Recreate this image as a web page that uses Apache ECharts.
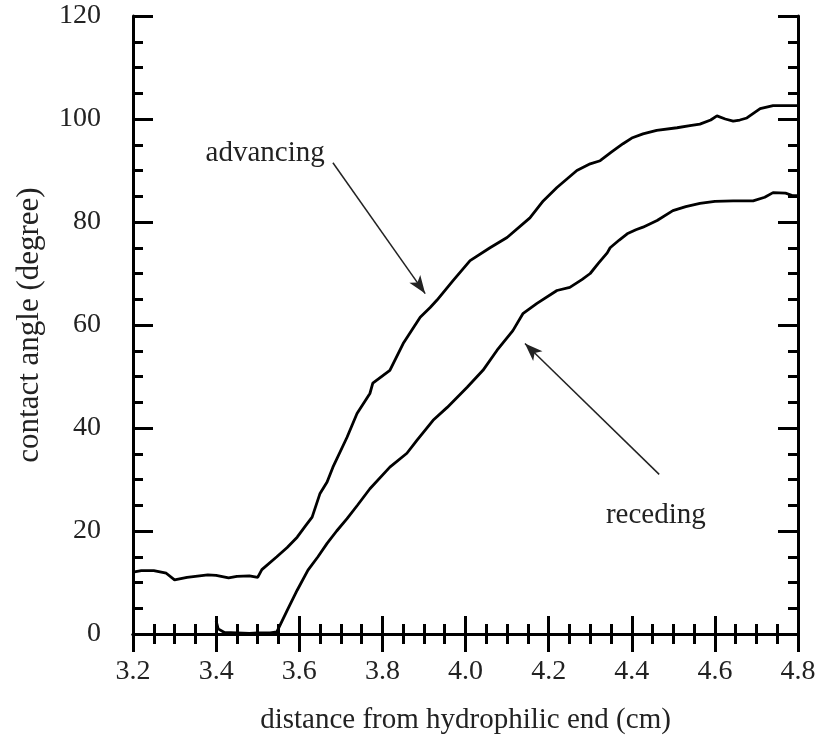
<!DOCTYPE html>
<html><head><meta charset="utf-8">
<script src="https://cdn.jsdelivr.net/npm/echarts@6/dist/echarts.min.js"></script>
<style>html,body{margin:0;padding:0;background:#fff}#c{width:815px;height:743px}</style>
</head><body><div id="c"></div>
<script>
// advancing contact angle [distance cm, angle deg]
const advX = [3.20,3.22,3.25,3.28,3.30,3.33,3.35,3.38,3.40,3.43,3.45,3.48,3.50,3.51,3.546,3.571,3.595,3.615,3.631,3.650,3.667,3.681,3.715,3.739,3.770,3.777,3.818,3.850,3.891,3.915,3.931,3.970,4.011,4.059,4.100,4.155,4.187,4.220,4.268,4.300,4.324,4.350,4.379,4.400,4.427,4.460,4.509,4.540,4.564,4.590,4.605,4.625,4.644,4.660,4.677,4.709,4.740,4.770,4.800];
const advY = [12.0,12.3,12.3,11.8,10.5,11.0,11.2,11.5,11.4,10.9,11.2,11.3,11.0,12.5,15.0,16.8,18.8,21.0,22.7,27.3,29.5,32.4,38.2,42.8,46.7,48.7,51.2,56.4,61.5,63.4,64.8,68.6,72.5,75.0,77.0,80.8,84.1,86.7,90.0,91.3,91.9,93.5,95.2,96.3,97.1,97.8,98.3,98.7,99.0,99.8,100.6,100.0,99.6,99.8,100.2,102.0,102.6,102.6,102.6];
// receding contact angle
const recX = [3.40,3.405,3.42,3.45,3.48,3.50,3.53,3.546,3.571,3.595,3.621,3.645,3.667,3.690,3.715,3.740,3.770,3.818,3.859,3.883,3.922,3.956,4.004,4.042,4.076,4.114,4.138,4.172,4.220,4.251,4.280,4.300,4.320,4.341,4.348,4.370,4.389,4.410,4.427,4.461,4.499,4.530,4.564,4.600,4.644,4.692,4.720,4.740,4.770,4.788,4.800];
const recY = [2.5,1.0,0.3,0.2,0.1,0.2,0.2,0.4,4.6,8.5,12.4,15.0,17.6,20.0,22.4,25.0,28.2,32.4,35.1,37.6,41.5,44.0,47.9,51.2,55.1,58.9,62.2,64.2,66.7,67.3,68.8,70.0,72.0,74.0,75.0,76.5,77.7,78.5,79.0,80.3,82.2,83.0,83.6,84.0,84.1,84.1,84.8,85.7,85.6,85.1,85.1];
// annotations
const advArrow = [[3.681,91.5],[3.903,66.1]];
const recArrow = [[4.466,31.0],[4.143,56.4]];
const advLabelAt = [3.518,93.4];
const recLabelAt = [4.458,23.1];

const pair = (xs, ys) => xs.map((x, i) => [x, ys[i]]);
const serif = '"Liberation Serif","DejaVu Serif",serif';
const axLine = {show:true, lineStyle:{color:'#000', width:3}};
const chart = echarts.init(document.getElementById('c'));
const mkX = (pos, showLabel) => ({
  type:'value', position:pos, min:3.2, max:4.8, interval:0.2,
  axisLine:axLine, splitLine:{show:false},
  axisTick:{show:true, inside:true, length:18, lineStyle:{color:'#000', width:3}},
  minorTick:{show:true, splitNumber:4, length:10, lineStyle:{color:'#000', width:3}},
  axisLabel:{show:showLabel, margin:24, color:'#222', fontFamily:serif, fontSize:28,
    formatter: v => v.toFixed(1)},
  name: showLabel ? 'distance from hydrophilic end (cm)' : '',
  nameLocation:'middle', nameGap:72,
  nameTextStyle:{color:'#222', fontFamily:serif, fontSize:29}
});
const mkY = (pos, showLabel) => ({
  type:'value', position:pos, min:0, max:120, interval:20,
  axisLine:axLine, splitLine:{show:false},
  axisTick:{show:true, inside:true, length:20, lineStyle:{color:'#000', width:3}},
  minorTick:{show:true, splitNumber:4, length:10, lineStyle:{color:'#000', width:3}},
  axisLabel:{show:showLabel, margin:32, color:'#222', fontFamily:serif, fontSize:28},
  name: showLabel ? 'contact angle (degree)' : '',
  nameLocation:'middle', nameGap:88, nameRotate:90,
  nameTextStyle:{color:'#222', fontFamily:serif, fontSize:31}
});
const textMark = (txt, at) => ({
  symbol:'rect', symbolSize:1, silent:true, itemStyle:{color:'rgba(0,0,0,0)'},
  label:{show:true, position:'inside', formatter:txt, color:'#222', fontFamily:serif, fontSize:29},
  data:[{coord:at}]
});
const arrow = (seg) => ({
  silent:true, symbol:['none','arrow'], symbolSize:[10,18],
  lineStyle:{color:'#222', width:1.5, type:'solid'}, label:{show:false},
  data:[[{coord:seg[0]},{coord:seg[1]}]]
});
chart.setOption({
  animation:false,
  backgroundColor:'#fff',
  grid:{left:133, right:17, top:16, bottom:109, containLabel:false, outerBoundsMode:'none'},
  xAxis:[mkX('bottom', true), mkX('top', false)],
  yAxis:[mkY('left', true), mkY('right', false)],
  series:[
    {name:'advancing', type:'line', data:pair(advX, advY), showSymbol:false, symbol:'none',
     lineStyle:{color:'#000', width:2.8}, clip:true,
     markLine:arrow(advArrow), markPoint:textMark('advancing', advLabelAt)},
    {name:'receding', type:'line', data:pair(recX, recY), showSymbol:false, symbol:'none',
     lineStyle:{color:'#000', width:2.8}, clip:true,
     markLine:arrow(recArrow), markPoint:textMark('receding', recLabelAt)}
  ]
});
</script></body></html>
